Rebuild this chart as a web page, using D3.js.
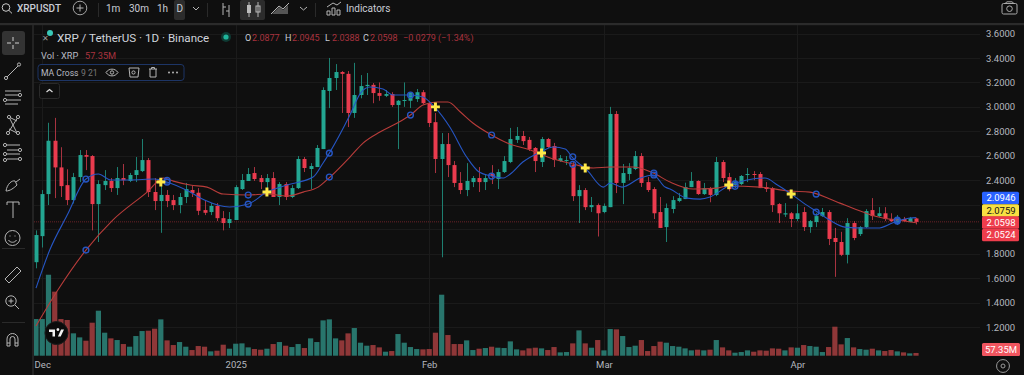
<!DOCTYPE html>
<html>
<head>
<meta charset="utf-8">
<script src="https://cdn.jsdelivr.net/npm/d3@7"></script>
<style>
html,body{margin:0;padding:0;background:#0f0f0f;overflow:hidden}
svg{display:block;font-family:Roboto,"Noto Sans",sans-serif}
</style>
</head>
<body>
<svg id="c" width="1024" height="375"></svg>
<script>
const open=[1.73,1.943,2.287,2.723,2.505,2.36,2.238,2.426,2.606,2.598,2.205,2.36,2.394,2.336,2.418,2.394,2.443,2.475,2.565,2.304,2.23,2.28,2.238,2.197,2.263,2.32,2.298,2.156,2.14,2.19,2.09,2.05,2.075,2.328,2.394,2.459,2.418,2.385,2.418,2.263,2.369,2.263,2.336,2.574,2.492,2.508,2.655,3.13,3.236,3.285,3.27,2.95,3.097,3.17,3.18,3.113,3.09,3.105,3.015,3.05,3.05,3.064,3.12,3.03,2.875,2.574,2.696,2.524,2.378,2.32,2.385,2.418,2.385,2.451,2.41,2.467,2.549,2.73,2.762,2.73,2.664,2.549,2.737,2.68,2.557,2.557,2.524,2.27,2.32,2.18,2.197,2.14,2.18,2.942,2.378,2.451,2.492,2.598,2.385,2.328,2.14,2.017,2.165,2.23,2.246,2.344,2.394,2.287,2.336,2.28,2.549,2.426,2.36,2.369,2.443,2.451,2.451,2.344,2.336,2.205,2.12,2.13,2.083,2.14,2.017,2.058,2.107,2.14,1.928,1.895,1.79,2.05,1.96,2.017,2.156,2.107,2.13,2.083,2.05,2.083,2.058,2.0877];
const high=[1.99,2.32,2.87,2.91,2.67,2.49,2.46,2.647,2.647,2.606,2.4,2.483,2.418,2.508,2.533,2.46,2.59,2.737,2.582,2.418,2.385,2.32,2.28,2.295,2.378,2.355,2.336,2.238,2.213,2.213,2.148,2.14,2.36,2.451,2.5,2.508,2.443,2.451,2.467,2.385,2.385,2.36,2.598,2.59,2.54,2.688,3.16,3.4,3.35,3.293,3.293,3.36,3.26,3.277,3.195,3.2,3.138,3.12,3.056,3.2,3.12,3.146,3.138,3.04,2.95,2.786,2.786,2.557,2.467,2.54,2.435,2.508,2.443,2.524,2.49,2.598,2.828,2.835,2.803,2.754,2.672,2.754,2.746,2.705,2.606,2.598,2.549,2.36,2.336,2.263,2.21,2.21,3.0,2.966,2.533,2.54,2.639,2.622,2.426,2.344,2.263,2.21,2.27,2.295,2.38,2.467,2.4,2.378,2.345,2.59,2.565,2.46,2.418,2.443,2.5,2.475,2.467,2.385,2.345,2.213,2.213,2.14,2.205,2.18,2.075,2.13,2.173,2.156,2.01,1.978,2.09,2.066,2.025,2.164,2.254,2.18,2.18,2.13,2.115,2.1,2.1,2.0945];
const low=[1.68,1.85,2.197,2.254,2.263,2.197,2.21,2.385,2.483,1.99,1.895,2.32,2.304,2.28,2.36,2.385,2.385,2.467,2.263,2.156,1.97,2.18,2.156,2.13,2.213,2.263,2.115,2.115,2.115,2.066,1.99,2.009,2.075,2.32,2.394,2.394,2.328,2.304,2.263,2.197,2.238,2.254,2.328,2.467,2.328,2.508,2.655,2.99,3.138,2.95,2.835,2.91,3.07,3.097,3.03,3.05,3.08,3.0,2.655,3.0,2.99,3.04,3.02,2.835,2.459,1.77,2.426,2.344,2.287,2.27,2.344,2.304,2.32,2.369,2.328,2.459,2.54,2.705,2.688,2.639,2.467,2.508,2.664,2.508,2.55,2.524,2.23,2.05,2.156,2.14,1.94,2.13,2.18,2.295,2.205,2.4,2.483,2.345,2.304,2.083,2.009,1.895,2.13,2.22,2.246,2.344,2.28,2.28,2.22,2.27,2.385,2.31,2.336,2.36,2.385,2.4,2.336,2.304,2.14,2.05,2.1,2.017,2.066,1.985,1.97,2.017,2.1,1.87,1.61,1.78,1.72,1.91,1.944,2.009,2.075,2.1,2.066,2.058,2.034,2.06,2.058,2.0388];
const close=[1.952,2.287,2.723,2.505,2.352,2.238,2.426,2.606,2.592,2.205,2.369,2.394,2.336,2.418,2.40,2.443,2.483,2.565,2.304,2.23,2.28,2.23,2.197,2.263,2.328,2.295,2.15,2.134,2.19,2.09,2.05,2.083,2.344,2.402,2.451,2.41,2.385,2.418,2.263,2.369,2.263,2.336,2.574,2.5,2.516,2.664,3.138,3.236,3.285,3.27,2.95,3.097,3.17,3.18,3.113,3.09,3.105,3.015,3.05,3.056,3.113,3.12,3.03,2.868,2.574,2.696,2.524,2.378,2.32,2.394,2.418,2.385,2.418,2.435,2.467,2.557,2.737,2.762,2.72,2.655,2.557,2.737,2.672,2.565,2.58,2.565,2.27,2.32,2.18,2.197,2.13,2.19,2.942,2.378,2.459,2.5,2.598,2.378,2.32,2.13,2.01,2.173,2.238,2.254,2.344,2.394,2.287,2.336,2.28,2.549,2.418,2.328,2.385,2.435,2.451,2.443,2.336,2.328,2.197,2.13,2.13,2.083,2.13,2.017,2.066,2.107,2.14,1.92,1.895,1.79,2.05,1.928,2.017,2.148,2.107,2.13,2.083,2.066,2.09,2.066,2.09,2.0598];
const volume=[770,770,1700,1345,770,750,470,385,315,693,945,483,364,329,245,189,413,518,525,567,763,322,224,287,189,119,203,189,91,105,231,147,252,259,175,140,126,147,245,287,210,182,245,161,364,287,742,763,364,322,469,581,273,210,224,175,84,98,455,273,182,140,133,140,483,1281,434,245,245,322,119,147,161,189,168,161,301,133,112,154,168,154,119,182,70,77,259,532,259,168,329,112,560,553,413,182,210,329,98,203,294,273,203,189,154,112,126,112,126,329,175,112,63,77,112,84,112,105,154,147,112,175,168,224,203,189,77,182,609,238,371,175,140,126,147,112,98,119,91,70,49,57.35];

const fastBars=[0,2.2,5,8,10,12,15,19,21,24.7,27,31,34,37,40.2,44.4,46,47,50.3,52,53.5,55.6,57.2,60,62,64,66.3,69,71,73,74.8,76,78,80.8,82.9,84.8,86,88.3,90.9,92,93.9,96.8,98.9,100.8,101.6,104.3,106.4,108,110.9,113.9,116.8,118.8,120.8,123,125.2,127.2,129.6,132.5,134.9,137.2,138,140,141];
const fastValues=[1.518,1.829,2.115,2.41,2.451,2.402,2.402,2.41,2.385,2.303,2.238,2.181,2.205,2.303,2.361,2.426,2.541,2.622,2.933,3.113,3.162,3.146,3.097,3.097,3.081,2.991,2.835,2.59,2.467,2.434,2.418,2.451,2.549,2.631,2.672,2.655,2.582,2.483,2.344,2.377,2.344,2.418,2.443,2.344,2.328,2.254,2.246,2.263,2.353,2.402,2.418,2.361,2.295,2.213,2.14,2.074,2.017,2.009,2.009,2.05,2.066,2.091,2.0946];
const slowBars=[0,3.5,8,12.3,17.8,20.4,22,24.7,27.4,30,34,37,40.2,42.8,45.2,47.1,50.3,52.4,55.1,57.9,60,62,64.3,66,68,70,73,75.5,79.2,82.9,86,89.3,92,95.7,98.9,101.6,105.3,109.1,110.9,116,120.8,124,127.2,128.8,132.5,135.7,138,141];
const slowValues=[1.208,1.502,1.829,2.074,2.303,2.418,2.393,2.361,2.344,2.287,2.279,2.287,2.271,2.303,2.344,2.426,2.59,2.704,2.794,2.868,2.933,3.015,3.04,3.04,2.958,2.868,2.77,2.704,2.647,2.574,2.533,2.5,2.508,2.508,2.459,2.385,2.328,2.336,2.353,2.344,2.312,2.303,2.246,2.213,2.14,2.091,2.075,2.0524];

const circleBars=[8,21,34,47,60,73,86,99,112,125,138];
const circleFast=[2.41,2.385,2.205,2.622,3.097,2.434,2.592,2.443,2.37,2.14,2.066];
const circleSlow=[1.829,2.40,2.279,2.426,2.933,2.77,2.53,2.459,2.35,2.287,2.075];
const crossBars=[20,37,64,81,88,111,121];
const crossValues=[2.385,2.304,3.0,2.623,2.5,2.362,2.287];

const priceTicks=[3.6,3.4,3.2,3.0,2.8,2.6,2.4,2.2,2.0,1.8,1.6,1.4,1.2];
const hiddenPriceTicks=[2.2,2.0];
const timeTickBars=[1,32,63,91,122];
const timeTickLabels=["Dec","2025","Feb","Mar","Apr"];
const lastClose=2.0598;

const BG="#0f0f0f",UP="#23a692",DOWN="#ea3b4e",VUP="#28756c",VDOWN="#8f3738",TXT="#c9ccd4";
const svg=d3.select("#c");
svg.append("rect").attr("width",1024).attr("height",375).attr("fill",BG);

const x=d3.scaleLinear().domain([0,141]).range([36,916]);
const y=d3.scaleLinear().domain([3.6,1.2]).range([33.5,327]);
const v=d3.scaleLinear().domain([0,2100]).range([355.7,255.7]);

svg.append("defs").append("clipPath").attr("id","pane").append("rect")
  .attr("x",34).attr("y",25).attr("width",946).attr("height",331);

// grid
const grid=svg.append("g");
grid.selectAll(".h").data(priceTicks).enter().append("line")
  .attr("x1",34).attr("x2",980).attr("y1",d=>Math.round(y(d))+.5).attr("y2",d=>Math.round(y(d))+.5)
  .attr("stroke","#1a1a1a");
grid.selectAll(".v").data(timeTickBars).enter().append("line")
  .attr("y1",25).attr("y2",356).attr("x1",d=>Math.round(x(d))+.5).attr("x2",d=>Math.round(x(d))+.5)
  .attr("stroke","#1b1b1b");

const pane=svg.append("g").attr("clip-path","url(#pane)");
const idx=d3.range(open.length);
const isUp=i=>close[i]>=open[i];

// volume
pane.append("g").selectAll("rect").data(idx).enter().append("rect")
  .attr("x",i=>x(i)-2.6).attr("width",5.2)
  .attr("y",i=>v(volume[i])).attr("height",i=>v(0)-v(volume[i]))
  .attr("fill",i=>isUp(i)?VUP:VDOWN);

// last price line
pane.append("line").attr("x1",34).attr("x2",980).attr("y1",y(lastClose)).attr("y2",y(lastClose))
  .attr("stroke","#6a2228").attr("stroke-width",1).attr("stroke-dasharray","1 1");

// candles
const candles=pane.append("g");
candles.selectAll(".w").data(idx).enter().append("line")
  .attr("x1",i=>Math.round(x(i))+.5).attr("x2",i=>Math.round(x(i))+.5)
  .attr("y1",i=>y(high[i])).attr("y2",i=>y(low[i]))
  .attr("stroke",i=>isUp(i)?"#1d7f70":"#a83340").attr("stroke-width",1);
candles.selectAll(".b").data(idx).enter().append("rect")
  .attr("x",i=>Math.round(x(i))-1.5).attr("width",4)
  .attr("y",i=>Math.min(y(open[i]),y(close[i])))
  .attr("height",i=>Math.max(1,Math.abs(y(open[i])-y(close[i]))))
  .attr("fill",i=>isUp(i)?UP:DOWN);

// moving averages
const line=d3.line().x(d=>x(d[0])).y(d=>y(d[1])).curve(d3.curveMonotoneX);
pane.append("path").attr("d",line(d3.zip(slowBars,slowValues))).attr("fill","none").attr("stroke","#b83c3a").attr("stroke-width",1.1);
pane.append("path").attr("d",line(d3.zip(fastBars,fastValues))).attr("fill","none").attr("stroke","#2656c4").attr("stroke-width",1.1);

// circles
[circleFast,circleSlow].forEach(vals=>{
  pane.append("g").selectAll("circle").data(circleBars).enter().append("circle")
    .attr("cx",d=>x(d)).attr("cy",(d,i)=>y(vals[i])).attr("r",2.9)
    .attr("fill","none").attr("stroke","#2656c4").attr("stroke-width",1.4);
});
// crosses
pane.append("g").selectAll("path").data(crossBars).enter().append("path")
  .attr("d",d3.symbol(d3.symbolCross,44))
  .attr("transform",(d,i)=>`translate(${x(d)},${y(crossValues[i])})`)
  .attr("fill","#ffe94a");

// TV logo
const logo=svg.append("g").attr("transform","translate(56.5,333)");
logo.append("circle").attr("r",11.5).attr("fill","#0b0b0b").attr("stroke","#1c1c1c");
logo.append("path").attr("d","M-7.5-3.5H-1.5V3.5H-4V-1H-7.5ZM-1-3.5H0A1.4 1.4 0 1 1 0-3.4ZM7.5-3.5L4.2 3.5H1.4L4.6-3.5Z").attr("fill","#f2f2f2");

// axes
const yAxis=d3.axisRight(y).tickValues(priceTicks.filter(t=>!hiddenPriceTicks.includes(t))).tickFormat(d3.format(".4f")).tickSize(0).tickPadding(0);
const ya=svg.append("g").attr("transform","translate(986,0)").call(yAxis);
ya.select(".domain").remove();
ya.selectAll("text").attr("font-size",9.5).attr("font-family","Roboto,sans-serif").attr("fill","#b4b7bf");

const xAxis=d3.axisBottom(x).tickValues(timeTickBars).tickFormat((d,i)=>timeTickLabels[i]).tickSize(0).tickPadding(0);
const xa=svg.append("g").attr("transform","translate(0,361)").call(xAxis);
xa.select(".domain").remove();
xa.selectAll("text").attr("font-size",9.5).attr("font-family","Roboto,sans-serif").attr("fill","#b4b7bf");

// price labels on axis
const priceLabels=[["2.0946",198,"#2962ff","#ffffff"],["2.0759",210.5,"#f7e042","#141414"],["2.0598",222.5,"#ee3d4c","#ffffff"],["2.0524",235,"#ee3d4c","#ffffff"]];
priceLabels.forEach(([t,cy,bg,fg])=>{
  svg.append("rect").attr("x",982).attr("y",cy-6.3).attr("width",37).attr("height",12.6).attr("rx",1.5).attr("fill",bg);
  svg.append("text").attr("x",1001).attr("y",cy+3.3).attr("text-anchor","middle").attr("font-size",9.5).attr("fill",fg).text(t);
});
svg.append("rect").attr("x",982).attr("y",343).attr("width",38).attr("height",13).attr("rx",1.5).attr("fill","#f0555f");
svg.append("text").attr("x",1001).attr("y",352.8).attr("text-anchor","middle").attr("font-size",9.5).attr("fill","#fff").text("57.35M");

// settings icon bottom right
svg.append("path").attr("d",d3.symbol(d3.symbolCircle,130)).attr("transform","translate(1003,366)").attr("fill","none").attr("stroke","#9a9a9a");
svg.append("circle").attr("cx",1003).attr("cy",366).attr("r",2).attr("fill","none").attr("stroke","#9a9a9a");

// chrome: top bar and left bar
svg.append("rect").attr("x",0).attr("y",23).attr("width",1024).attr("height",2.2).attr("fill","#2b2b2b");
svg.append("rect").attr("x",32).attr("y",25).attr("width",2).attr("height",350).attr("fill","#232323");
[98,207,315].forEach(s=>svg.append("line").attr("x1",s+.5).attr("x2",s+.5).attr("y1",3).attr("y2",17).attr("stroke","#2a2a2a"));
svg.append("rect").attr("x",174).attr("y",0).attr("width",11).attr("height",20).attr("rx",2).attr("fill","#2c2c2c");
svg.append("rect").attr("x",240).attr("y",0).attr("width",25).attr("height",20).attr("rx",2).attr("fill","#2c2c2c");

const topText=[["XRPUSDT",17,12,10,500],["1m",106,12,10,400],["30m",129,12,10,400],["1h",157,12,10,400],["D",176.5,12,10,400],["Indicators",346,12,10,400]];
topText.forEach(([t,tx,ty,fs,w])=>svg.append("text").attr("x",tx).attr("y",ty).attr("font-size",fs).attr("font-weight",w).attr("fill",TXT).text(t));

const icon=(d,o={})=>svg.append("path").attr("d",d).attr("fill","none").attr("stroke",o.c||"#b5b5b5").attr("stroke-width",o.w||1);
const dot=(cx,cy,r=1.6)=>svg.append("circle").attr("cx",cx).attr("cy",cy).attr("r",r).attr("fill",BG).attr("stroke","#b5b5b5");
// search
svg.append("circle").attr("cx",6).attr("cy",7.5).attr("r",3.8).attr("fill","none").attr("stroke","#c9c9c9");
icon("M8.8 10.3L12 13.4",{c:"#c9c9c9"});
// plus
svg.append("circle").attr("cx",80).attr("cy",8).attr("r",6.8).attr("fill","none").attr("stroke","#a5a5a5");
icon("M76.5 8H83.5M80 4.5V11.5");
// chevrons
icon("M193 7L196 10L199 7");icon("M300 7L303.5 10L307 7");
// bars icon
icon("M223 3V15M223 7H226M229 5V17M226 11H229");
// candles icon
icon("M249 2V17M258 2V17");
svg.append("rect").attr("x",247).attr("y",5).attr("width",4).attr("height",8).attr("fill","#bbb");
svg.append("rect").attr("x",256).attr("y",6).attr("width",4).attr("height",6).attr("fill","none").attr("stroke","#bbb");
// area icon
svg.append("path").attr("d","M272 14L279 7L283 10L288 5V14Z").attr("fill","#555");
icon("M271 14L279 6L283 9L289 3");
// indicators icon
icon("M327 15V11H330V15ZM332 15V8H335V15ZM337 15V10H340V15ZM327 7L333 3L337 5L341 2");
// camera
svg.append("rect").attr("x",1002).attr("y",3.5).attr("width",15).attr("height",10.5).attr("rx",1.5).attr("fill","none").attr("stroke","#aaa");
svg.append("circle").attr("cx",1009.5).attr("cy",8.7).attr("r",2.8).attr("fill","none").attr("stroke","#aaa");
icon("M1005 3.5L1007 1.8H1012L1014 3.5",{c:"#aaa"});

// left tools
svg.append("rect").attr("x",2).attr("y",31).attr("width",23).attr("height",24).attr("rx",3).attr("fill","#333");
icon("M7 43H11M15 43H19M13 37V41M13 45V49",{c:"#cfcfcf"});
icon("M6 78L19 65");dot(6,78);dot(19,64.5);
icon("M5 91H21M5 95H18M5 100H21M5 104H18");dot(20,95);dot(5,100);
icon("M9 117L17 133M18 117L8 133M9 117L17 121M9 129L17 133");dot(9,117);dot(18,117);dot(8,133);dot(18,133);
icon("M7 145H20M7 150H20M7 154H20M7 159H20");dot(5,145);dot(20,150);dot(5,154);dot(20,159);dot(5,160);
icon("M6 191C7 184 12 180 15 181L17 185C14 188 10 191 6 191ZM16 182L20 179");
icon("M7 205V202H19V205M13 202V218");
svg.append("circle").attr("cx",12.5).attr("cy",238).attr("r",7.5).attr("fill","none").attr("stroke","#b5b5b5");
icon("M8.5 240C10 243 15 243 16.5 240M10 235.5V236.5M15 235.5V236.5");
icon("M5 279L17 267L21 271L9 283Z");
svg.append("circle").attr("cx",11).attr("cy",301).attr("r",5.2).attr("fill","none").attr("stroke","#b5b5b5");
icon("M15 305L19 309M8.5 301H13.5M11 298.5V303.5");
icon("M7 346V339A5.5 5.5 0 0 1 18 339V346H15V339A2.5 2.5 0 0 0 10 339V346ZM7 343H10M15 343H18");
[248.5,322.5].forEach(s=>svg.append("line").attr("x1",2).attr("x2",25).attr("y1",s).attr("y2",s).attr("stroke","#2a2a2a"));

// legend
const legendIcon=svg.append("g");
legendIcon.append("text").attr("x",42).attr("y",41).attr("font-size",8).attr("fill","#9a9a9a").text("✕");
legendIcon.append("circle").attr("cx",50).attr("cy",33).attr("r",3).attr("fill","#39c8b8");
svg.append("text").attr("x",57).attr("y",42).attr("font-size",11.6).attr("fill","#d1d4dc").text("XRP / TetherUS · 1D · Binance");
svg.append("circle").attr("cx",226).attr("cy",37).attr("r",5).attr("fill","#0e3a33");
svg.append("circle").attr("cx",226).attr("cy",37).attr("r",2.6).attr("fill","#1fb59b");

const ohlcLabels=["O","H","L","C"],ohlcX=[245,285,325,363],ohlcVals=["2.0877","2.0945","2.0388","2.0598"];
ohlcLabels.forEach((l,i)=>{
  svg.append("text").attr("x",ohlcX[i]).attr("y",40.5).attr("font-size",9).attr("fill","#c9ccd4").text(l);
  svg.append("text").attr("x",ohlcX[i]+7).attr("y",40.5).attr("font-size",9).attr("fill","#a8323e").text(ohlcVals[i]);
});
svg.append("text").attr("x",403).attr("y",40.5).attr("font-size",9).attr("fill","#a8323e").text("−0.0279 (−1.34%)");

svg.append("text").attr("x",41).attr("y",58.5).attr("font-size",9.2).attr("fill","#b8bbc3").text("Vol · XRP");
svg.append("text").attr("x",85).attr("y",58.5).attr("font-size",9.2).attr("fill","#a8323e").text("57.35M");

svg.append("rect").attr("x",38).attr("y",64.5).attr("width",146).attr("height",16).attr("rx",3).attr("fill",BG).attr("stroke","#1d3566");
svg.append("text").attr("x",41).attr("y",76).attr("font-size",8.6).attr("fill","#b8bbc3").text("MA Cross");
svg.append("text").attr("x",81).attr("y",76).attr("font-size",8.6).attr("fill","#777").text("9 21");
// legend buttons
icon("M106 72.5C109 68 115 68 118 72.5C115 77 109 77 106 72.5Z");
svg.append("circle").attr("cx",112).attr("cy",72.5).attr("r",1.7).attr("fill","none").attr("stroke","#b5b5b5");
icon("M129 68H139L138 77H130Z");svg.append("circle").attr("cx",133.5).attr("cy",72.5).attr("r",1.6).attr("fill","none").attr("stroke","#b5b5b5");
icon("M149 69H157M150 69V77H156V69M151.5 69V67.5H154.5V69");
[169,173,177].forEach(cx=>svg.append("circle").attr("cx",cx).attr("cy",72.5).attr("r",1).attr("fill","#b5b5b5"));
svg.append("rect").attr("x",39.5).attr("y",83.5).attr("width",20).attr("height",15).attr("rx",2).attr("fill",BG).attr("stroke","#2a2a2a");
icon("M46.5 92L49.5 89.5L52.5 92",{c:"#ddd",w:1.2});
</script>
</body>
</html>
